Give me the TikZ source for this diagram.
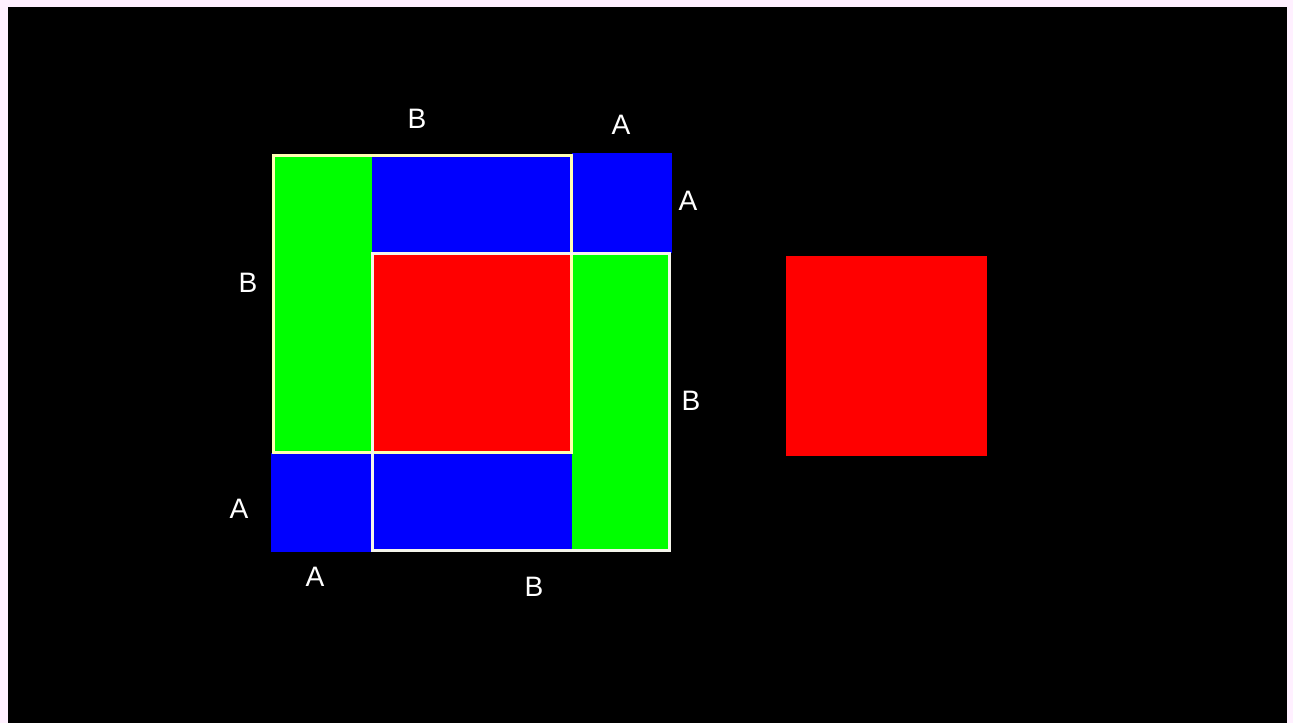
\documentclass[tikz,border=0pt]{standalone}
\usepackage{fontspec}
\setmainfont{Liberation Sans}
\usepackage{tikz}

\definecolor{pagepink}{rgb}{1,0.94,1}
\definecolor{sqgreen}{rgb}{0,1,0}
\definecolor{sqblue}{rgb}{0,0,1}
\definecolor{sqred}{rgb}{1,0,0}
\definecolor{edgeyellow}{rgb}{1,1,0.7}
\definecolor{edgewhite}{rgb}{0.96,0.96,0.92}

\tikzset{
  piece/.style={inner sep=0pt, outer sep=0pt, draw=none},
  side/.style={text=white, inner sep=0pt, font=\fontsize{16}{18}\selectfont}
}

\begin{document}
\begin{tikzpicture}[x=0.02cm, y=-0.02cm]
            % page and black panel
            \fill[pagepink] (0,0) rectangle (1293,723);
            \fill[black] (8,7) rectangle (1287,723);
            \useasboundingbox (0,0) rectangle (1293,723);

            % pieces of the big square
            \node[piece, fill=sqgreen, minimum width=2cm, minimum height=5.96cm] (greenL) at (322.5,304) {};
            \node[piece, fill=sqblue, minimum width=4cm, minimum height=1.96cm] (blueT) at (472,204) {};
            \node[piece, fill=sqblue, minimum width=2cm, minimum height=2cm] (blueTR) at (622,203) {};
            \node[piece, fill=sqred, minimum width=4cm, minimum height=4cm] (redC) at (472,353) {};
            \node[piece, fill=sqgreen, minimum width=1.96cm, minimum height=5.96cm] (greenR) at (621,402) {};
            \node[piece, fill=sqblue, minimum width=2.02cm, minimum height=1.98cm] (blueBL) at (321.5,502.5) {};
            \node[piece, fill=sqblue, minimum width=4cm, minimum height=1.96cm] (blueB) at (472,502) {};

            % the two outlined squares
            \node[piece, draw=edgeyellow, line width=0.06cm, minimum width=5.98cm, minimum height=5.96cm] (sqYellow) at (422.5,304) {};
            \node[piece, draw=edgewhite, line width=0.06cm, minimum width=5.96cm, minimum height=5.96cm] (sqWhite) at (521,402) {};

            % the lone square
            \node[piece, fill=sqred, minimum width=4.02cm, minimum height=4cm] (redR) at (886.5,356) {};

            % side names
            \node[side] (topB) at (417,119) {B};
            \node[side] (topA) at (621,125) {A};
            \node[side] (rightA) at (688,201) {A};
            \node[side] (leftB) at (248,283) {B};
            \node[side] (rightB) at (691,401) {B};
            \node[side] (leftA) at (239,509) {A};
            \node[side] (bottomA) at (315,577) {A};
            \node[side] (bottomB) at (534,587) {B};
        \end{tikzpicture}
\end{document}
